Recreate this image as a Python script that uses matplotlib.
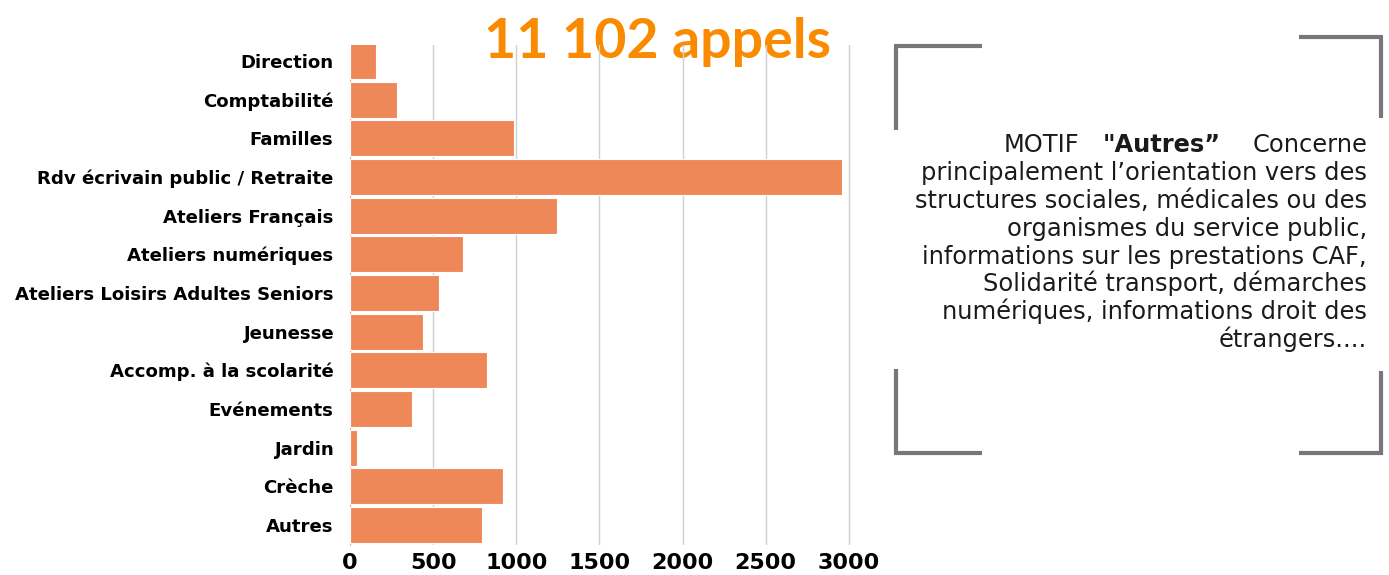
import matplotlib
matplotlib.use("Agg")
import matplotlib.pyplot as plt
from matplotlib.lines import Line2D

# ---- data ----
categories = [
    "Direction", "Comptabilité", "Familles", "Rdv écrivain public / Retraite",
    "Ateliers Français", "Ateliers numériques", "Ateliers Loisirs Adultes Seniors",
    "Jeunesse", "Accomp. à la scolarité", "Evénements", "Jardin", "Crèche", "Autres",
]
calls = [158, 283, 988, 2962, 1245, 680, 535, 440, 823, 373, 40, 922, 795]
xticks = [0, 500, 1000, 1500, 2000, 2500, 3000]
title_text = "11 102 appels"
note_lines = [
    "principalement l\u2019orientation vers des",
    "structures sociales, médicales ou des",
    "organismes du service public,",
    "informations sur les prestations CAF,",
    "Solidarité transport, démarches",
    "numériques, informations droit des",
    "étrangers....",
]

BAR = "#EF8859"
ORANGE = "#FA8A00"
GREY = "#77767B"
WIDE = ["DejaVu Sans"]
TITLE_FONT = ["Lato", "DejaVu Sans"]

W, H = 1389, 575
fig = plt.figure(figsize=(W / 100, H / 100), dpi=100)
fig.patch.set_facecolor("white")

def fx(px):
    return px / W

def fy(py):
    return 1 - py / H

# ---- bar chart ----
ax = fig.add_axes([fx(350), fy(545), fx(882) - fx(350), fy(45) - fy(545)])
y = list(range(len(categories)))
ax.barh(y, calls, height=0.93, color=BAR, edgecolor="white", linewidth=0.8, zorder=3)
ax.set_ylim(12.52, -0.41)
ax.set_xlim(0, 3200)
ax.set_yticks(y)
ax.set_yticklabels(categories, fontsize=13.1, fontweight="bold", family=WIDE)
ax.set_xticks(xticks)
ax.set_xticklabels([str(v) for v in xticks], fontsize=16, fontweight="bold", family=WIDE)
ax.tick_params(axis="both", length=0)
ax.tick_params(axis="y", pad=12)
ax.tick_params(axis="x", pad=6)
ax.set_axisbelow(True)
ax.grid(True, axis="x", color="#D0D0D0", linewidth=1.0)
for s in ["top", "right", "bottom"]:
    ax.spines[s].set_visible(False)
ax.spines["left"].set_color("#C0C0C0")

# title drawn under the gridlines
ax.text(fx(657), fy(58), title_text, transform=fig.transFigure, ha="center",
        va="baseline", fontsize=40, fontweight="bold", color=ORANGE,
        family=TITLE_FONT, zorder=0.3, clip_on=False)

# ---- bracket frame ----
segs = [
    ([894, 982], [46, 46]), ([896, 896], [46, 130]),
    ([1299, 1383], [37, 37]), ([1381, 1381], [37, 118]),
    ([896, 896], [369, 455]), ([894, 982], [453, 453]),
    ([1381, 1381], [371, 455]), ([1299, 1383], [453, 453]),
]
for xs, ys in segs:
    fig.add_artist(Line2D([fx(v) for v in xs], [fy(v) for v in ys],
                          color=GREY, linewidth=3, solid_capstyle="butt"))

# ---- note text ----
right = fx(1367)
fs = 17.4
first_base = 152
step = 27.9
ink = "#1A1A1A"
fig.text(fx(1004), fy(first_base), "MOTIF", ha="left", va="baseline",
         fontsize=fs, family=WIDE, color=ink)
fig.text(fx(1103), fy(first_base), "\"Autres\u201d", ha="left", va="baseline",
         fontsize=fs, fontweight="bold", family=WIDE, color=ink)
fig.text(right, fy(first_base), "Concerne", ha="right", va="baseline",
         fontsize=fs, family=WIDE, color=ink)
for i, line in enumerate(note_lines):
    fig.text(right, fy(first_base + step * (i + 1)), line, ha="right",
             va="baseline", fontsize=fs, family=WIDE, color=ink)

fig.savefig("out.png", dpi=100, facecolor="white")
